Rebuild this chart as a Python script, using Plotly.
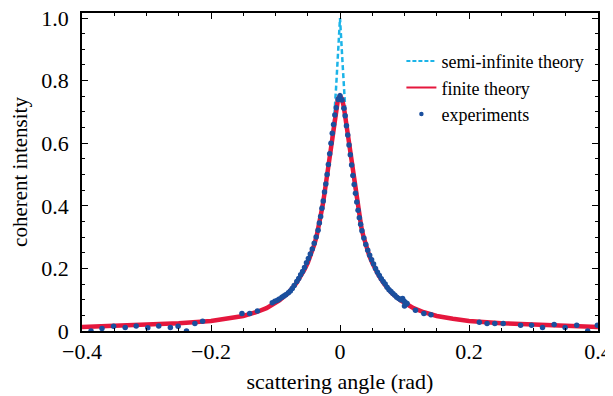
import plotly.graph_objects as go

# Finite theory curve (x >= 0 half, mirrored)
finite_x_pos = [0.0, 0.003, 0.006, 0.009, 0.012, 0.015, 0.018, 0.021, 0.024, 0.027, 0.030, 0.033,
                0.036, 0.040, 0.045, 0.050, 0.055, 0.060, 0.068, 0.080, 0.094, 0.114, 0.130,
                0.150, 0.175, 0.200, 0.250, 0.300, 0.350, 0.400]
finite_y_pos = [0.750, 0.742, 0.715, 0.672, 0.625, 0.576, 0.528, 0.482, 0.440, 0.400, 0.364, 0.332,
                0.305, 0.275, 0.243, 0.218, 0.197, 0.178, 0.152, 0.122, 0.098, 0.073, 0.060,
                0.048, 0.039, 0.032, 0.025, 0.020, 0.016, 0.013]

# Semi-infinite theory (x >= 0 half, mirrored)
semi_x_pos = [0.0, 0.003, 0.006, 0.009, 0.012, 0.015, 0.018, 0.021, 0.024, 0.027, 0.030, 0.033,
              0.036, 0.040, 0.045, 0.050, 0.055, 0.060, 0.068, 0.080, 0.094, 0.114, 0.130,
              0.150, 0.175, 0.200, 0.250, 0.300, 0.350, 0.400]
semi_y_pos = [1.000, 0.890, 0.780, 0.680, 0.625, 0.576, 0.528, 0.482, 0.440, 0.400, 0.364, 0.332,
              0.305, 0.275, 0.243, 0.218, 0.197, 0.178, 0.152, 0.122, 0.098, 0.073, 0.060,
              0.048, 0.039, 0.032, 0.025, 0.020, 0.016, 0.013]

finite_x = [-v for v in finite_x_pos[::-1]] + finite_x_pos[1:]
finite_y = finite_y_pos[::-1] + finite_y_pos[1:]
semi_x = [-v for v in semi_x_pos[::-1]] + semi_x_pos[1:]
semi_y = semi_y_pos[::-1] + semi_y_pos[1:]

# Experimental points
exp_x = [0.000, -0.003, -0.006, -0.008, -0.010, -0.012, -0.014, -0.016, -0.018, -0.020, -0.022,
         -0.024, -0.026, -0.028, -0.030, -0.032, -0.034, -0.037, -0.040, -0.043, -0.046, -0.049,
         -0.052, -0.055, -0.058, -0.061, -0.064, -0.067, -0.071, -0.074, -0.077, -0.080, -0.084,
         -0.087, -0.090, -0.094, -0.097, -0.101, -0.105, -0.128, -0.140, -0.152, -0.213, -0.225,
         -0.238, -0.251, -0.263, -0.281, -0.298, -0.316, -0.333, -0.351, -0.369, -0.386,
         0.003, 0.006, 0.008, 0.010, 0.012, 0.014, 0.016, 0.018, 0.020, 0.022, 0.024, 0.026,
         0.028, 0.030, 0.032, 0.034, 0.037, 0.040, 0.043, 0.046, 0.049, 0.052, 0.055, 0.058,
         0.061, 0.064, 0.067, 0.070, 0.073, 0.076, 0.079, 0.082, 0.085, 0.088, 0.091, 0.094,
         0.097, 0.099, 0.101, 0.103, 0.100, 0.104, 0.117, 0.130, 0.141, 0.216, 0.228, 0.240,
         0.253, 0.280, 0.297, 0.314, 0.332, 0.349, 0.367, 0.384, 0.399]
exp_y = [0.752, 0.740, 0.713, 0.690, 0.660, 0.632, 0.600, 0.566, 0.532, 0.500, 0.470,
         0.444, 0.415, 0.392, 0.366, 0.345, 0.322, 0.300, 0.280, 0.262, 0.246, 0.232,
         0.218, 0.203, 0.190, 0.180, 0.168, 0.158, 0.145, 0.136, 0.128, 0.122, 0.116,
         0.112, 0.108, 0.102, 0.098, 0.095, 0.090, 0.064, 0.056, 0.056, 0.031, 0.024,
         0.000, 0.015, 0.011, 0.016, 0.010, 0.016, 0.011, 0.015, 0.008, 0.000,
         0.738, 0.712, 0.688, 0.656, 0.626, 0.594, 0.563, 0.530, 0.497, 0.468, 0.440, 0.412,
         0.386, 0.362, 0.341, 0.320, 0.297, 0.276, 0.258, 0.242, 0.228, 0.214, 0.200, 0.188,
         0.177, 0.167, 0.158, 0.150, 0.140, 0.132, 0.126, 0.120, 0.114, 0.108, 0.104, 0.100,
         0.104, 0.096, 0.092, 0.086, 0.080, 0.088, 0.066, 0.056, 0.052, 0.028, 0.024, 0.024,
         0.024, 0.018, 0.018, 0.011, 0.021, 0.011, 0.018, 0.000, 0.018]

x_ticks = [-0.4, -0.2, 0, 0.2, 0.4]
x_tick_labels = ["\u22120.4", "\u22120.2", "0", "0.2", "0.4"]
y_ticks = [0, 0.2, 0.4, 0.6, 0.8, 1.0]
y_tick_labels = ["0", "0.2", "0.4", "0.6", "0.8", "1.0"]

FONT = "Liberation Serif"
CYAN = "#1CB4E8"
RED = "#E5173D"
BLUE = "#1A4F9E"

fig = go.Figure()
fig.add_trace(go.Scatter(x=semi_x, y=semi_y, mode="lines", name="semi-infinite theory",
                         showlegend=False,
                         line=dict(color=CYAN, width=2.5, dash="5px,3px")))
fig.add_trace(go.Scatter(x=finite_x, y=finite_y, mode="lines", name="finite theory",
                         showlegend=False, line=dict(color=RED, width=4.5)))
fig.add_trace(go.Scatter(x=exp_x, y=exp_y, mode="markers", name="experiments",
                         showlegend=False, marker=dict(color=BLUE, size=5.5)))
# legend entries (styled as in the reference legend)
fig.add_trace(go.Scatter(x=[None], y=[None], mode="lines", name="semi-infinite theory",
                         line=dict(color=CYAN, width=2, dash="4px,2px")))
fig.add_trace(go.Scatter(x=[None], y=[None], mode="lines", name="finite theory",
                         line=dict(color=RED, width=1.8)))
fig.add_trace(go.Scatter(x=[None], y=[None], mode="markers", name="experiments",
                         marker=dict(color=BLUE, size=4.5)))

axis_common = dict(showline=True, linecolor="black", linewidth=1.5, mirror="allticks",
                   ticks="inside", ticklen=6, tickwidth=1.2, tickcolor="black",
                   showgrid=False, zeroline=False, automargin=False,
                   ticklabeloverflow="allow",
                   tickfont=dict(family=FONT, size=22, color="black"))

fig.update_xaxes(range=[-0.4, 0.4], tickvals=x_ticks, ticktext=x_tick_labels,
                 minor=dict(dtick=0.05, ticks="inside", ticklen=3, tickcolor="black", tickwidth=1),
                 title=dict(text="scattering angle (rad)", font=dict(family=FONT, size=22, color="black"),
                            standoff=10),
                 ticklabelstandoff=0, **axis_common)
fig.update_yaxes(range=[0, 1.016], tickvals=y_ticks, ticktext=y_tick_labels,
                 minor=dict(dtick=0.05, ticks="inside", ticklen=3, tickcolor="black", tickwidth=1),
                 title=dict(text="coherent intensity", font=dict(family=FONT, size=21, color="black"),
                            standoff=10),
                 ticklabelstandoff=7, **axis_common)

# the page body has an 8 px margin, so the figure is offset by (8, 8)
fig.update_layout(width=613, height=396, margin=dict(l=73.5, r=23, t=5, b=73),
                  paper_bgcolor="white", plot_bgcolor="white",
                  font=dict(family=FONT, color="black"),
                  legend=dict(x=0.619, y=0.906, xanchor="left", yanchor="top",
                              font=dict(family=FONT, size=18, color="black"),
                              bgcolor="rgba(0,0,0,0)", tracegroupgap=0))

fig.write_html("out.html")
